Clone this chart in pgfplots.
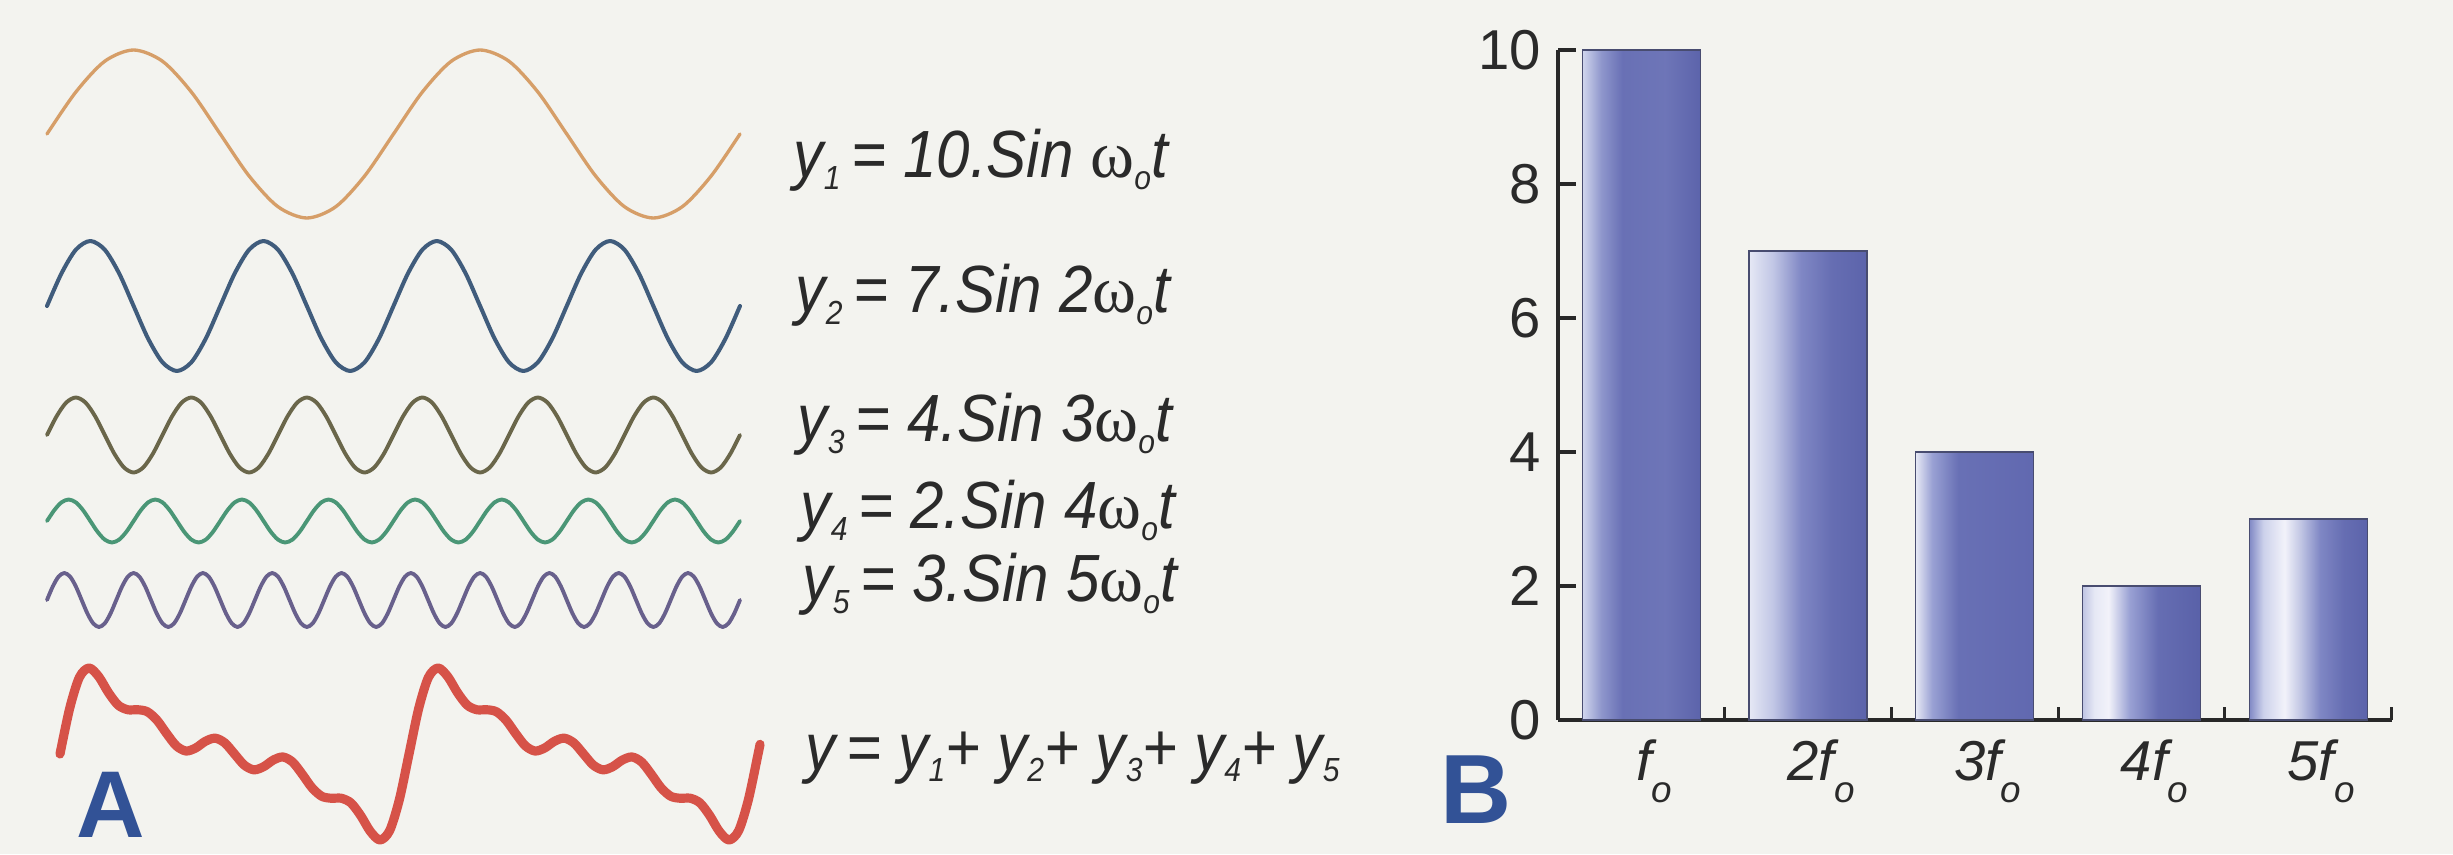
\documentclass[border=0pt]{standalone}
\usepackage{fontspec}
\setmainfont{Liberation Sans}
\newfontfamily\eqfont[FakeStretch=0.9]{Liberation Sans}
\newfontfamily\omegafont{Liberation Serif}
\usepackage{pgfplots}
\pgfplotsset{compat=1.18}
\usepackage{pgfplotstable}

\definecolor{paper}{RGB}{243,243,239}
\definecolor{wOne}{RGB}{214,158,104}
\definecolor{wTwo}{RGB}{64,92,124}
\definecolor{wThree}{RGB}{106,102,74}
\definecolor{wFour}{RGB}{74,150,118}
\definecolor{wFive}{RGB}{104,96,140}
\definecolor{wSum}{RGB}{214,82,72}
\definecolor{panel}{RGB}{50,82,150}
\definecolor{ink}{RGB}{42,42,42}
\definecolor{axisink}{RGB}{40,40,40}
\definecolor{baredge}{RGB}{72,76,112}

% cylinder-like shadings for the bars (bar spans 25bp..75bp)
\pgfdeclarehorizontalshading{cylA}{100bp}{rgb(0bp)=(.82,.84,.93); rgb(25bp)=(.82,.84,.93); rgb(33bp)=(.56,.59,.80); rgb(42bp)=(.41,.44,.71); rgb(60bp)=(.43,.46,.72); rgb(75bp)=(.36,.39,.67); rgb(100bp)=(.36,.39,.67)}
\pgfdeclarehorizontalshading{cylB}{100bp}{rgb(0bp)=(.90,.91,.96); rgb(25bp)=(.90,.91,.96); rgb(35bp)=(.76,.78,.90); rgb(47bp)=(.50,.53,.77); rgb(60bp)=(.40,.43,.70); rgb(75bp)=(.36,.39,.67); rgb(100bp)=(.36,.39,.67)}
\pgfdeclarehorizontalshading{cylC}{100bp}{rgb(0bp)=(.90,.91,.96); rgb(25bp)=(.90,.91,.96); rgb(32bp)=(.60,.63,.83); rgb(43bp)=(.41,.44,.71); rgb(75bp)=(.38,.41,.69); rgb(100bp)=(.38,.41,.69)}
\pgfdeclarehorizontalshading{cylD}{100bp}{rgb(0bp)=(.75,.77,.89); rgb(25bp)=(.75,.77,.89); rgb(30bp)=(.90,.91,.96); rgb(36bp)=(.95,.95,.98); rgb(45bp)=(.60,.63,.83); rgb(57bp)=(.40,.43,.70); rgb(75bp)=(.35,.38,.66); rgb(100bp)=(.35,.38,.66)}
\pgfdeclarehorizontalshading{cylE}{100bp}{rgb(0bp)=(.50,.53,.77); rgb(25bp)=(.50,.53,.77); rgb(31bp)=(.80,.82,.92); rgb(40bp)=(.95,.95,.98); rgb(47bp)=(.75,.77,.89); rgb(55bp)=(.50,.53,.77); rgb(65bp)=(.40,.43,.70); rgb(75bp)=(.36,.39,.67); rgb(100bp)=(.36,.39,.67)}

\newcommand{\eqsub}[1]{\raisebox{-3.4pt}{\fontsize{9.5}{10}\selectfont #1}}
\newcommand{\lblsub}[1]{\raisebox{-6.3pt}{\fontsize{10.5}{11}\selectfont #1}}
\newcommand{\om}{{\omegafont\upshape ω}}

% harmonics, sampled every twelfth of their own period over two fundamental periods
\pgfplotstableread[row sep=\\]{v\\
0\\ 5\\ 8.660\\ 10\\ 8.660\\ 5\\ 0\\ -5\\ -8.660\\ -10\\ -8.660\\ -5\\
0\\ 5\\ 8.660\\ 10\\ 8.660\\ 5\\ 0\\ -5\\ -8.660\\ -10\\ -8.660\\ -5\\ 0\\}\yone
\pgfplotstableread[row sep=\\]{v\\
0\\ 3.5\\ 6.062\\ 7\\ 6.062\\ 3.5\\ 0\\ -3.5\\ -6.062\\ -7\\ -6.062\\ -3.5\\
0\\ 3.5\\ 6.062\\ 7\\ 6.062\\ 3.5\\ 0\\ -3.5\\ -6.062\\ -7\\ -6.062\\ -3.5\\
0\\ 3.5\\ 6.062\\ 7\\ 6.062\\ 3.5\\ 0\\ -3.5\\ -6.062\\ -7\\ -6.062\\ -3.5\\
0\\ 3.5\\ 6.062\\ 7\\ 6.062\\ 3.5\\ 0\\ -3.5\\ -6.062\\ -7\\ -6.062\\ -3.5\\ 0\\}\ytwo
\pgfplotstableread[row sep=\\]{v\\
0\\ 2\\ 3.464\\ 4\\ 3.464\\ 2\\ 0\\ -2\\ -3.464\\ -4\\ -3.464\\ -2\\
0\\ 2\\ 3.464\\ 4\\ 3.464\\ 2\\ 0\\ -2\\ -3.464\\ -4\\ -3.464\\ -2\\
0\\ 2\\ 3.464\\ 4\\ 3.464\\ 2\\ 0\\ -2\\ -3.464\\ -4\\ -3.464\\ -2\\
0\\ 2\\ 3.464\\ 4\\ 3.464\\ 2\\ 0\\ -2\\ -3.464\\ -4\\ -3.464\\ -2\\
0\\ 2\\ 3.464\\ 4\\ 3.464\\ 2\\ 0\\ -2\\ -3.464\\ -4\\ -3.464\\ -2\\
0\\ 2\\ 3.464\\ 4\\ 3.464\\ 2\\ 0\\ -2\\ -3.464\\ -4\\ -3.464\\ -2\\ 0\\}\ythree
\pgfplotstableread[row sep=\\]{v\\
0\\ 1\\ 1.732\\ 2\\ 1.732\\ 1\\ 0\\ -1\\ -1.732\\ -2\\ -1.732\\ -1\\
0\\ 1\\ 1.732\\ 2\\ 1.732\\ 1\\ 0\\ -1\\ -1.732\\ -2\\ -1.732\\ -1\\
0\\ 1\\ 1.732\\ 2\\ 1.732\\ 1\\ 0\\ -1\\ -1.732\\ -2\\ -1.732\\ -1\\
0\\ 1\\ 1.732\\ 2\\ 1.732\\ 1\\ 0\\ -1\\ -1.732\\ -2\\ -1.732\\ -1\\
0\\ 1\\ 1.732\\ 2\\ 1.732\\ 1\\ 0\\ -1\\ -1.732\\ -2\\ -1.732\\ -1\\
0\\ 1\\ 1.732\\ 2\\ 1.732\\ 1\\ 0\\ -1\\ -1.732\\ -2\\ -1.732\\ -1\\
0\\ 1\\ 1.732\\ 2\\ 1.732\\ 1\\ 0\\ -1\\ -1.732\\ -2\\ -1.732\\ -1\\
0\\ 1\\ 1.732\\ 2\\ 1.732\\ 1\\ 0\\ -1\\ -1.732\\ -2\\ -1.732\\ -1\\ 0\\}\yfour
\pgfplotstableread[row sep=\\]{v\\
0\\ 1.5\\ 2.598\\ 3\\ 2.598\\ 1.5\\ 0\\ -1.5\\ -2.598\\ -3\\ -2.598\\ -1.5\\
0\\ 1.5\\ 2.598\\ 3\\ 2.598\\ 1.5\\ 0\\ -1.5\\ -2.598\\ -3\\ -2.598\\ -1.5\\
0\\ 1.5\\ 2.598\\ 3\\ 2.598\\ 1.5\\ 0\\ -1.5\\ -2.598\\ -3\\ -2.598\\ -1.5\\
0\\ 1.5\\ 2.598\\ 3\\ 2.598\\ 1.5\\ 0\\ -1.5\\ -2.598\\ -3\\ -2.598\\ -1.5\\
0\\ 1.5\\ 2.598\\ 3\\ 2.598\\ 1.5\\ 0\\ -1.5\\ -2.598\\ -3\\ -2.598\\ -1.5\\
0\\ 1.5\\ 2.598\\ 3\\ 2.598\\ 1.5\\ 0\\ -1.5\\ -2.598\\ -3\\ -2.598\\ -1.5\\
0\\ 1.5\\ 2.598\\ 3\\ 2.598\\ 1.5\\ 0\\ -1.5\\ -2.598\\ -3\\ -2.598\\ -1.5\\
0\\ 1.5\\ 2.598\\ 3\\ 2.598\\ 1.5\\ 0\\ -1.5\\ -2.598\\ -3\\ -2.598\\ -1.5\\
0\\ 1.5\\ 2.598\\ 3\\ 2.598\\ 1.5\\ 0\\ -1.5\\ -2.598\\ -3\\ -2.598\\ -1.5\\
0\\ 1.5\\ 2.598\\ 3\\ 2.598\\ 1.5\\ 0\\ -1.5\\ -2.598\\ -3\\ -2.598\\ -1.5\\ 0\\}\yfive
% their sum, every 10 degrees
\pgfplotstableread[row sep=\\]{t f\\
0 0\\ 10 9.714\\ 20 16.308\\ 30 18.294\\ 40 16.444\\ 50 13.051\\ 60 10.392\\ 70 9.406\\ 80 9.420\\ 90 9.000\\
100 7.204\\ 110 4.346\\ 120 1.732\\ 130 0.631\\ 140 1.288\\ 150 2.706\\ 160 3.368\\ 170 2.354\\ 180 0\\
190 -2.354\\ 200 -3.368\\ 210 -2.706\\ 220 -1.288\\ 230 -0.631\\ 240 -1.732\\ 250 -4.346\\ 260 -7.204\\ 270 -9.000\\
280 -9.420\\ 290 -9.406\\ 300 -10.392\\ 310 -13.051\\ 320 -16.444\\ 330 -18.294\\ 340 -16.308\\ 350 -9.714\\ 360 0\\
370 9.714\\ 380 16.308\\ 390 18.294\\ 400 16.444\\ 410 13.051\\ 420 10.392\\ 430 9.406\\ 440 9.420\\ 450 9.000\\
460 7.204\\ 470 4.346\\ 480 1.732\\ 490 0.631\\ 500 1.288\\ 510 2.706\\ 520 3.368\\ 530 2.354\\ 540 0\\
550 -2.354\\ 560 -3.368\\ 570 -2.706\\ 580 -1.288\\ 590 -0.631\\ 600 -1.732\\ 610 -4.346\\ 620 -7.204\\ 630 -9.000\\
640 -9.420\\ 650 -9.406\\ 660 -10.392\\ 670 -13.051\\ 680 -16.444\\ 690 -18.294\\ 700 -16.308\\ 710 -9.714\\ 720 0\\
722 2.054\\}\ysum
% amplitude spectrum
\pgfplotstableread[row sep=\\]{k a\\ 0 10\\ 1 7\\ 2 4\\ 3 2\\ 4 3\\}\spectrum

\pgfplotsset{
  wave/.style={scale only axis, hide axis, clip=false, anchor=south west},
  wavepen/.style={smooth, no markers, line cap=round, line join=round},
  barframe/.style={scale only axis, width=83.35mm, height=67mm, at={(155.8mm,13.4mm)},
    anchor=south west, xmin=-0.5, xmax=4.5, ymin=0, ymax=10, clip=false},
  barpen/.style={ybar, bar width=11.8mm, bar shift=0pt, draw=baredge, line width=0.35pt},
}

\begin{document}
\begin{tikzpicture}
\fill[paper] (0,0) rectangle (245.3mm,85.4mm);
\useasboundingbox (0,0) rectangle (245.3mm,85.4mm);

% ---- panel A: the five harmonics and their sum
\begin{axis}[wave, at={(4.7mm,63.6mm)}, width=69.3mm, height=16.8mm, xmin=0, xmax=24, ymin=-10, ymax=10]
\addplot[wavepen, draw=wOne, line width=0.95pt] table[x expr=\coordindex, y=v] {\yone};
\end{axis}
\begin{axis}[wave, at={(4.7mm,48.3mm)}, width=69.3mm, height=13.0mm, xmin=0, xmax=48, ymin=-7, ymax=7]
\addplot[wavepen, draw=wTwo, line width=1.15pt] table[x expr=\coordindex, y=v] {\ytwo};
\end{axis}
\begin{axis}[wave, at={(4.7mm,38.15mm)}, width=69.3mm, height=7.5mm, xmin=0, xmax=72, ymin=-4, ymax=4]
\addplot[wavepen, draw=wThree, line width=1.1pt] table[x expr=\coordindex, y=v] {\ythree};
\end{axis}
\begin{axis}[wave, at={(4.7mm,31.15mm)}, width=69.3mm, height=4.3mm, xmin=0, xmax=96, ymin=-2, ymax=2]
\addplot[wavepen, draw=wFour, line width=1.1pt] table[x expr=\coordindex, y=v] {\yfour};
\end{axis}
\begin{axis}[wave, at={(4.7mm,22.7mm)}, width=69.3mm, height=5.4mm, xmin=0, xmax=120, ymin=-3, ymax=3]
\addplot[wavepen, draw=wFive, line width=1.1pt] table[x expr=\coordindex, y=v] {\yfive};
\end{axis}
\begin{axis}[wave, at={(6.0mm,1.4mm)}, width=70.0mm, height=17.2mm, xmin=0, xmax=722, ymin=-18.294, ymax=18.294]
\addplot[wavepen, draw=wSum, line width=2.6pt] table[x=t, y=f] {\ysum};
\end{axis}

\begin{scope}[every node/.style={anchor=base west, inner sep=0pt, text=ink, font=\eqfont\itshape\fontsize{19}{22}\selectfont}]
\node at (79.3mm,67.6mm) {y\eqsub{1}\,= 10.Sin \om\eqsub{o}t};
\node at (79.5mm,54.1mm) {y\eqsub{2}\,= 7.Sin 2\om\eqsub{o}t};
\node at (79.7mm,41.2mm) {y\eqsub{3}\,= 4.Sin 3\om\eqsub{o}t};
\node at (80.0mm,32.5mm) {y\eqsub{4}\,= 2.Sin 4\om\eqsub{o}t};
\node at (80.2mm,25.2mm) {y\eqsub{5}\,= 3.Sin 5\om\eqsub{o}t};
\node at (80.5mm,8.4mm) {y\,= y\eqsub{1}+ y\eqsub{2}+ y\eqsub{3}+ y\eqsub{4}+ y\eqsub{5}};
\end{scope}
\node[anchor=base west, inner sep=0pt, text=panel, font=\bfseries\fontsize{27}{30}\selectfont] at (7.6mm,1.7mm) {A};
\node[anchor=base west, inner sep=0pt, text=panel, font=\bfseries\fontsize{28}{30}\selectfont] at (144.0mm,3.1mm) {B};

% ---- panel B: amplitude spectrum
\begin{axis}[barframe,
  axis x line=bottom, axis y line=left,
  axis line style={-, draw=axisink, line width=0.9pt},
  xtick=\empty, ytick={0,2,...,10},
  tick align=inside, major tick length=1.8mm,
  tick style={draw=axisink, line width=0.9pt},
  yticklabel style={font=\fontsize{16}{19}\selectfont, text=ink, xshift=-0.5mm},
  /pgf/number format/assume math mode=true]
\end{axis}
\begin{axis}[barframe,
  axis x line=bottom, axis y line=none,
  x axis line style={draw=none},
  xtick={0.5,1.5,2.5,3.5,4.5}, xticklabels={},
  tick align=inside, major tick length=1.3mm,
  tick style={draw=axisink, line width=0.9pt}]
\end{axis}
\begin{axis}[barframe,
  axis x line=bottom, axis y line=none,
  x axis line style={draw=none},
  xtick={0,1,2,3,4},
  xticklabels={{\itshape f\lblsub{o}},{\itshape 2f\lblsub{o}},{\itshape 3f\lblsub{o}},{\itshape 4f\lblsub{o}},{\itshape 5f\lblsub{o}}},
  xtick style={draw=none},
  xticklabel style={font=\fontsize{16}{19}\selectfont, text=ink, xshift=1.3mm}]
\addplot[barpen, shading=cylA] table[x=k, y=a, skip coords between index={1}{5}] {\spectrum};
\addplot[barpen, shading=cylB] table[x=k, y=a, skip coords between index={0}{1}, skip coords between index={2}{5}] {\spectrum};
\addplot[barpen, shading=cylC] table[x=k, y=a, skip coords between index={0}{2}, skip coords between index={3}{5}] {\spectrum};
\addplot[barpen, shading=cylD] table[x=k, y=a, skip coords between index={0}{3}, skip coords between index={4}{5}] {\spectrum};
\addplot[barpen, shading=cylE] table[x=k, y=a, skip coords between index={0}{4}] {\spectrum};
\end{axis}
\end{tikzpicture}
\end{document}
